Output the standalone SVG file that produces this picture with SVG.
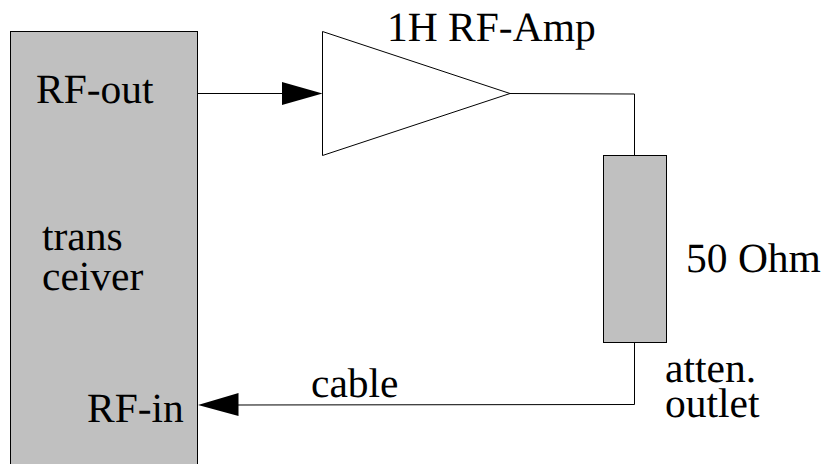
<svg xmlns="http://www.w3.org/2000/svg" width="824" height="464" viewBox="0 0 824 464">
<style>
text{font-family:"Liberation Serif","Times New Roman",serif;font-size:41.5px;fill:#000;text-rendering:geometricPrecision}
.s{fill:#c0c0c0;stroke:#000;stroke-width:1}
.c{fill:none;stroke:#000;stroke-width:1}
</style>
<rect width="824" height="464" fill="#fff"/>
<g id="transceiver"><rect class="s" x="10.500" y="31.500" width="187" height="440"/>
<text x="36" y="103">RF-out</text><text x="42" y="250">trans</text><text x="42" y="290">ceiver</text><text x="87" y="422">RF-in</text></g>
<g id="amp"><path d="M322.500 31.500L510 93.500L322.500 155.500Z" fill="#fff" stroke="#000"/><text x="387" y="41">1H RF-Amp</text></g>
<g id="attenuator"><rect class="s" x="603.500" y="155.500" width="63" height="187"/><text x="686" y="272">50 Ohm</text></g>
<g id="connectors">
<path class="c" d="M198 93.500L282 93.500"/><path d="M322.500 93.500L282 82L282 105Z"/>
<path class="c" d="M510 93.500L634.500 94L634.500 155"/>
<path class="c" d="M634.500 343L634.500 404.500L238 405"/><path d="M198 405L238.500 393L238.500 416Z"/>
</g>
<g id="labels"><text x="311" y="397">cable</text><text x="665" y="381.500">atten.</text><text x="665" y="417">outlet</text></g>
</svg>
